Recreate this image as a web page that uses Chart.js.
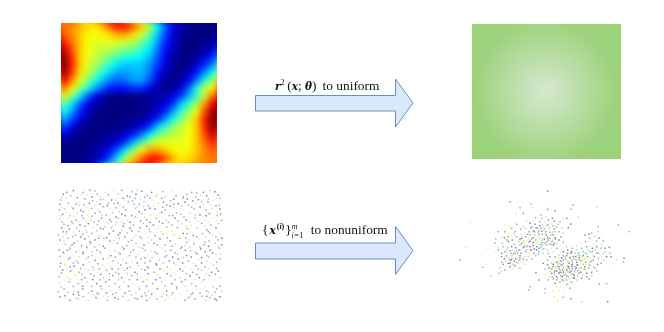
<!DOCTYPE html>
<html><head><meta charset="utf-8">
<script src="https://cdn.jsdelivr.net/npm/chart.js@4"></script>
<style>
html,body{margin:0;padding:0;background:#fff;width:664px;height:332px;overflow:hidden}
.clip{position:absolute;overflow:hidden}
.clip canvas{position:absolute}
.plain{position:absolute}
svg{position:absolute;left:0;top:0}
.t{position:absolute;font-family:"Liberation Serif",serif;font-size:13.4px;color:#111;white-space:nowrap;line-height:14px}
.t i{font-family:"DejaVu Serif",serif;font-weight:bold;font-size:10.5px}
.t sup,.t sub{font-size:8px;line-height:0}
</style></head><body>
<div class="clip" id="heatBox" style="left:61px;top:23px;width:156px;height:140px"><canvas id="heat"></canvas></div>
<div class="clip" id="greenBox" style="left:472px;top:24px;width:149px;height:135px"><canvas id="green"></canvas></div>
<canvas id="scA" class="plain" style="left:50px;top:185px"></canvas>
<canvas id="scB" class="plain" style="left:455px;top:185px"></canvas>
<svg width="664" height="332">
<path d="M255.5 95.5H395.5V79L413 103L395.5 127V111H255.5Z" fill="#dae8fc" stroke="#6c8ebf" stroke-width="1"/>
<path d="M255.5 243H395.5V226.5L413 250.5L395.5 274.5V259H255.5Z" fill="#dae8fc" stroke="#6c8ebf" stroke-width="1"/>
</svg>
<div class="t" style="left:275px;top:79px"><i>r</i><sup>2</sup>&thinsp;(<i>x</i>; <i>θ</i>)&thinsp; to uniform</div>
<div class="t" style="left:262px;top:223px">{<i style="margin:0 1px">x</i><sup style="margin-right:1px"><b>(<span style="font-style:italic">i</span>)</b></sup>}<sup style="font-style:italic;letter-spacing:1px">m</sup><sub style="margin-left:-7px;letter-spacing:.6px"><span style="font-style:italic">i</span>=1</sub>&ensp;to nonuniform</div>
<script>
const heatValues=[
[.78,.76,.72,.68,.67,.72,.82,.88,.88,.80,.70,.58,.36,.20,.10,.04,.02,0,0,0],
[.80,.76,.70,.66,.64,.66,.70,.74,.74,.68,.60,.46,.30,.17,.08,.03,.01,0,0,0],
[.86,.78,.70,.64,.62,.62,.62,.62,.60,.56,.48,.38,.26,.14,.06,.02,0,0,0,.02],
[.93,.82,.70,.64,.60,.58,.56,.52,.50,.46,.40,.33,.22,.12,.05,.01,0,.01,.03,.08],
[.98,.85,.70,.63,.58,.54,.48,.42,.38,.37,.34,.28,.19,.10,.03,0,0,.02,.07,.14],
[1,.86,.70,.62,.55,.47,.38,.32,.30,.30,.29,.24,.16,.07,.02,0,.02,.07,.14,.24],
[.97,.84,.68,.58,.48,.38,.30,.26,.26,.28,.28,.22,.12,.05,.01,.01,.05,.13,.24,.36],
[.90,.76,.62,.50,.38,.29,.22,.20,.22,.26,.26,.18,.08,.02,.01,.03,.10,.22,.38,.52],
[.78,.66,.52,.38,.27,.18,.13,.12,.13,.15,.14,.08,.03,.01,.02,.08,.20,.40,.56,.66],
[.66,.50,.34,.20,.10,.04,.01,0,0,.01,.01,.02,.03,.05,.09,.16,.28,.42,.58,.78],
[.46,.33,.20,.10,.04,.01,0,0,0,0,.01,.02,.04,.08,.15,.30,.42,.54,.74,.90],
[.38,.26,.14,.06,.02,0,0,0,0,0,.01,.03,.07,.14,.27,.40,.52,.64,.82,.97],
[.28,.17,.09,.03,0,0,0,0,0,.01,.03,.07,.14,.26,.38,.50,.60,.70,.86,1],
[.17,.09,.03,0,0,0,0,.01,.02,.05,.09,.16,.32,.42,.52,.58,.64,.70,.85,.98],
[.09,.03,.01,0,0,.01,.02,.04,.08,.14,.23,.35,.47,.54,.58,.60,.64,.70,.82,.93],
[.02,0,0,0,.01,.03,.05,.10,.18,.30,.44,.56,.62,.62,.62,.62,.64,.70,.78,.86],
[0,0,0,.01,.03,.06,.12,.22,.36,.54,.66,.74,.74,.70,.66,.64,.66,.70,.76,.80],
[0,0,0,.02,.04,.10,.20,.36,.58,.70,.80,.88,.88,.82,.72,.67,.68,.72,.76,.78]];
const greenValues=[
[0,0,0,0,.01,.07,.11,.13,.13,.11,.07,.01,0,0,0,0],
[0,0,0,.06,.14,.20,.24,.26,.26,.24,.20,.14,.06,0,0,0],
[0,0,.07,.16,.25,.32,.37,.39,.39,.37,.32,.25,.16,.07,0,0],
[0,.04,.15,.25,.35,.43,.49,.53,.53,.49,.43,.35,.25,.15,.04,0],
[0,.10,.21,.33,.44,.53,.61,.66,.66,.61,.53,.44,.33,.21,.10,0],
[.01,.14,.26,.38,.50,.62,.72,.79,.79,.72,.62,.50,.38,.26,.14,.01],
[.03,.16,.29,.41,.54,.67,.79,.91,.91,.79,.67,.54,.41,.29,.16,.03],
[.03,.16,.29,.41,.54,.67,.79,.91,.91,.79,.67,.54,.41,.29,.16,.03],
[.01,.14,.26,.38,.50,.62,.72,.79,.79,.72,.62,.50,.38,.26,.14,.01],
[0,.10,.21,.33,.44,.53,.61,.66,.66,.61,.53,.44,.33,.21,.10,0],
[0,.04,.15,.25,.35,.43,.49,.53,.53,.49,.43,.35,.25,.15,.04,0],
[0,0,.07,.16,.25,.32,.37,.39,.39,.37,.32,.25,.16,.07,0,0],
[0,0,0,.06,.14,.20,.24,.26,.26,.24,.20,.14,.06,0,0,0],
[0,0,0,0,.01,.07,.11,.13,.13,.11,.07,.01,0,0,0,0]];
const uniformXY=[
70,17,120,16,135,18,165,22,190,17,215,16,245,20,262,16,275,19,305,22,338,20,365,16,392,20,425,22,440,24,480,17,495,20,
40,28,62,33,95,27,112,30,142,28,175,30,205,27,232,33,258,28,292,31,322,28,352,30,378,33,410,28,452,30,470,33,505,30,
32,45,48,40,75,46,105,42,128,47,160,42,185,45,220,40,248,48,272,42,310,45,335,40,362,47,398,41,428,48,445,44,475,42,490,47,515,52,
30,58,55,55,88,60,118,55,150,58,192,56,210,60,240,55,268,58,295,62,325,55,350,60,385,56,415,60,438,55,462,58,498,62,
28,75,45,72,70,70,92,76,125,70,145,75,178,72,198,68,228,75,255,70,285,74,315,72,345,75,372,68,402,74,432,72,468,75,485,70,510,72,
38,88,60,92,82,85,110,90,135,85,168,90,188,84,215,88,245,92,275,86,302,90,330,85,358,92,392,88,420,85,450,90,478,86,502,92,
30,102,52,100,78,105,100,100,122,106,155,100,180,104,205,100,232,106,262,100,290,105,318,100,348,106,375,100,408,105,435,98,465,104,492,100,515,106,
42,118,68,115,90,120,115,116,142,120,172,115,195,120,222,116,250,120,280,115,310,120,338,115,365,120,395,116,425,120,455,115,482,120,505,116,
35,128,58,132,80,130,108,135,130,128,160,132,185,128,215,135,240,130,270,128,298,133,325,130,355,135,382,128,412,132,442,130,470,135,498,128,
25,150,48,146,72,142,98,148,125,145,150,152,178,146,205,150,232,144,258,150,288,145,315,152,340,146,372,150,400,145,430,152,458,146,488,150,512,148,
30,165,55,160,82,168,105,162,135,165,162,160,192,168,218,162,245,166,275,160,305,165,330,162,360,168,390,160,418,165,448,162,478,168,505,165,
45,178,72,175,95,182,122,176,148,180,175,178,202,175,230,182,258,176,282,180,312,175,345,180,375,176,405,182,432,176,462,180,495,175,515,180,
28,195,60,192,88,198,112,190,140,196,165,190,195,198,222,192,250,196,278,190,302,198,335,192,362,196,392,190,422,198,452,192,480,196,508,190,
42,208,70,212,98,206,125,212,152,206,182,212,210,206,238,212,265,208,295,212,322,206,350,212,382,208,410,212,440,206,470,212,498,208,
35,225,55,222,80,228,108,222,135,226,160,222,190,228,218,224,245,228,272,222,300,228,328,224,358,228,385,222,415,228,445,224,472,228,510,222,
30,245,45,240,72,244,100,240,128,246,158,240,182,246,212,240,240,246,265,242,292,246,320,240,352,246,378,240,405,246,438,242,465,246,490,240,
38,255,62,258,88,262,115,256,142,262,170,256,198,262,225,256,255,262,285,256,312,262,340,256,368,262,398,258,428,262,455,256,485,262,505,258,
28,275,52,278,78,272,105,278,132,272,160,278,188,272,215,278,245,272,272,278,300,272,330,278,362,272,390,278,420,272,448,278,478,272,512,278,
30,295,58,290,85,296,112,290,140,296,168,290,195,296,222,290,250,296,280,290,308,296,335,290,365,296,395,290,425,296,455,290,485,296,
25,320,42,312,72,318,98,312,125,318,155,312,182,318,210,312,238,318,268,312,295,318,322,312,350,318,380,312,410,318,440,312,470,318,500,312,515,318,
45,332,70,328,100,335,130,330,160,334,188,328,218,334,245,330,275,334,305,328,335,334,365,330,395,334,425,328,455,334,485,330,510,335,
60,346,85,342,115,346,145,342,172,346,205,342,235,346,262,342,290,346,320,342,345,346,375,342,405,346,435,342,468,346,495,342,
50,22,100,22,150,35,200,38,240,35,300,38,345,36,400,36,460,22,510,40,85,52,140,52,175,55,235,50,282,50,340,52,405,52,455,50,65,65,110,66,160,65,220,66,262,66,300,70,360,64,425,66,480,60,
50,82,100,80,150,82,208,80,268,80,335,82,380,84,445,82,500,80,65,110,132,112,200,112,240,112,300,112,355,112,420,110,475,112,55,122,105,124,165,125,220,124,290,124,350,126,410,124,465,124,
40,140,88,138,140,138,190,138,245,138,300,140,365,140,420,140,475,140,68,155,115,155,170,158,225,155,270,155,325,158,385,155,440,156,498,156,42,168,120,170,180,168,235,170,295,172,350,170,410,172,465,172,
60,186,110,186,160,184,218,186,268,186,330,186,395,186,450,186,505,186,40,202,100,202,150,200,205,202,270,202,315,202,375,204,435,202,488,204,60,218,115,216,175,218,230,216,285,218,345,216,400,218,455,218,
32,235,85,234,118,232,172,234,228,234,285,234,340,234,398,234,455,234,500,232,50,250,105,250,148,252,205,252,275,252,330,252,390,252,445,252,475,252,75,268,122,266,178,266,232,266,295,266,352,266,410,266,468,266,
45,285,95,284,150,284,205,284,262,284,318,284,375,284,435,284,495,284,70,304,125,304,178,304,235,304,290,304,345,304,405,304,465,304,510,304,55,322,115,324,170,324,225,324,285,324,340,324,390,324,450,324,495,322,
78,340,138,338,195,338,255,340,300,338,355,338,415,338,480,338,
36,36,82,38,126,36,152,44,198,46,226,46,256,40,284,36,318,34,372,42,412,42,438,36,500,38,36,66,78,58,102,60,134,62,172,62,204,54,252,58,280,64,312,62,338,66,372,58,396,64,450,66,474,52,508,60,
34,92,72,94,96,92,126,94,156,90,198,96,226,92,256,96,284,96,322,92,368,92,402,96,436,90,468,92,512,88,36,112,84,110,108,108,146,108,184,110,214,110,272,108,328,110,384,108,444,108,498,108,
50,140,76,150,110,142,152,130,210,144,266,140,332,140,350,146,412,146,480,144,38,156,92,156,146,160,208,160,252,156,294,158,352,158,408,158,468,156,516,160,66,180,134,186,186,176,248,184,322,180,366,184,420,186,476,184,
52,196,78,200,126,200,178,198,242,202,286,196,346,198,406,196,466,200,30,214,88,216,138,216,196,216,258,216,306,218,368,216,424,216,476,216,512,208,44,236,70,234,144,236,204,234,262,234,318,236,372,234,430,236,482,236,
60,246,92,250,130,254,186,252,232,250,296,250,360,252,420,252,500,250,34,264,96,268,152,268,206,266,262,268,322,268,378,268,440,268,496,268,60,282,128,284,178,284,238,284,290,284,348,284,406,284,462,284,
34,306,98,304,152,304,208,306,268,306,322,304,380,306,438,304,490,306,84,322,142,324,198,324,258,324,312,324,368,324,428,324,476,322,30,336,86,330,146,328,174,336,232,334,288,332,350,330,420,334,470,334,500,346];
const nonuniformXY=[
278,18,165,50,228,57,233,68,290,62,353,60,348,73,425,65,300,77,278,73,195,68,183,88,45,113,490,120,523,140,370,97,348,117,335,100,430,125,32,187,98,193,15,226,83,247,108,272,463,187,507,220,505,232,485,225,473,237,432,298,455,296,380,350,458,350,348,341,325,337,308,347,297,335,222,315,225,305,270,325,252,285,243,263,133,265,140,258,
230,98,242,98,258,90,272,95,292,100,205,85,315,110,325,102,150,120,130,140,170,130,205,125,225,115,240,118,255,110,270,112,285,115,295,122,305,125,322,130,340,128,148,158,122,162,140,155,162,145,180,140,198,132,212,130,228,128,244,128,258,130,272,125,285,130,298,132,312,140,325,145,
160,170,172,165,185,155,198,148,210,142,222,140,235,138,248,142,260,138,272,140,285,142,295,140,305,148,318,155,178,178,190,170,200,160,212,155,225,150,238,150,250,152,262,148,275,152,288,150,300,158,312,165,325,172,128,185,118,198,130,195,145,185,158,188,170,185,182,188,195,180,208,172,218,165,230,162,242,165,255,160,268,162,280,165,292,168,305,175,318,180,
150,200,165,198,178,200,192,195,205,188,218,182,232,178,245,175,258,178,270,175,283,178,295,180,140,215,155,212,170,212,185,210,198,205,212,200,225,195,238,192,252,190,265,192,278,195,290,190,305,190,140,232,152,228,168,225,182,222,195,218,210,215,225,210,238,205,250,208,265,205,145,238,160,235,175,238,190,235,205,232,215,225,230,222,135,248,165,245,180,242,195,250,210,238,175,252,150,255,
300,215,312,210,325,200,338,195,352,190,365,182,378,175,392,170,405,160,430,140,402,148,390,150,425,168,440,178,415,180,395,185,380,190,365,195,350,200,338,205,325,212,312,220,298,228,285,215,278,225,290,235,305,232,318,228,332,222,345,215,358,210,372,205,385,200,398,195,412,190,425,185,438,190,450,200,440,215,425,205,412,200,398,208,385,212,372,218,358,222,345,228,332,235,318,240,305,245,292,248,278,240,265,235,
270,252,285,258,298,255,312,252,325,248,338,242,352,238,365,232,378,228,392,222,405,218,418,215,430,220,445,225,455,215,468,215,405,232,392,238,378,242,365,248,352,252,338,258,325,262,312,265,298,268,285,272,272,268,280,285,295,282,308,280,322,275,335,272,348,268,362,262,375,258,388,252,402,248,415,245,428,238,300,295,315,292,328,288,342,282,355,278,368,272,382,268,395,265,410,262,425,258,305,305,318,305,335,298,350,292,365,285,380,280,402,282,270,312,295,318,325,322,345,310,
248,130,262,118,278,120,235,158,222,172,210,180,198,195,188,205,175,208,162,218,148,222,200,175,215,195,235,205,248,170,262,172,275,180,290,170,235,172,245,185,258,185,272,190,170,155,155,165,142,175,
335,185,348,205,362,215,375,212,388,222,400,225,415,225,430,205,445,205,320,218,335,212,352,225,365,225,378,235,392,232,405,240,325,235,340,245,352,245,365,240,315,255,328,255,342,250,358,258,372,252,290,265,305,258,318,272,332,265,345,278,358,272,295,245,308,238,282,248,322,285,335,285,312,292,
165,125,185,118,120,175,260,100,280,105,298,108,310,118,215,108,235,108,150,140,160,155,178,148,195,162,225,185,252,200,158,205,178,218,192,225,205,222,220,215,165,235,140,205,280,205,295,200,
440,150,445,168,410,145,418,155,432,160,450,190,465,205,415,210,452,232,438,235,420,250,410,272,395,275,378,262,368,258,340,298,312,315,
252,148,268,132,292,145,278,158,298,175,262,165,240,150,222,160,208,185,185,198,172,195,195,212,178,228,164,225,152,215,250,178,285,160,272,148,232,125,255,122,
345,218,360,205,372,225,385,208,398,215,352,232,338,228,325,225,312,245,298,262,285,250,328,245,345,262,360,245,375,225,390,245,305,275,318,262,332,280,345,290,
300,258,290,252,312,235,322,255,335,255,350,240,362,225,378,215,392,205,405,200,420,195,368,240,355,268,340,275,
265,125,282,135,295,150,275,170,262,180,245,195,228,195,215,185,205,168,192,172,180,205,168,205,155,195,238,140,225,168,252,138,
282,128,270,158,288,178,302,162,300,140,218,148,235,182,242,212,220,205,198,225,185,232,170,222,
330,215,342,235,355,215,368,210,382,225,395,230,410,228,322,240,335,250,348,258,362,252,378,248,392,255,302,250,315,262,328,270,342,262,358,280,372,265,385,238,402,240,318,280,305,285,292,275,310,228,295,238];
const jetStops=[[0,0,0,128],[.11,0,0,255],[.35,0,255,255],[.65,255,255,0],[.89,255,0,0],[1,128,0,0]];
const viridis=['rgba(68,1,84,.55)','rgba(59,82,139,.55)','rgba(33,145,140,.55)','rgba(94,201,98,.55)','rgba(253,231,37,.6)','rgba(72,40,120,.6)','rgba(40,120,142,.55)','rgba(160,218,57,.55)'];
const greenEdge=[155,210,122], greenCenter=[216,233,210];
function lerpStops(v){for(let k=1;k<jetStops.length;k++){if(v<=jetStops[k][0]){const a=jetStops[k-1],b=jetStops[k],t=(v-a[0])/(b[0]-a[0]);return 'rgb('+[1,2,3].map(i=>Math.round(a[i]+(b[i]-a[i])*t)).join(',')+')';}}return 'rgb(128,0,0)';}
function greenColor(v){return 'rgb('+[0,1,2].map(i=>Math.round(greenEdge[i]+(greenCenter[i]-greenEdge[i])*v)).join(',')+')';}
function toPoints(m){const p=[];m.forEach((r,y)=>r.forEach((v,x)=>p.push({x,y,v})));return p;}
function gridChart(id,m,cw,ch,colorFn,radius,haloRadius,blur){
  const rows=m.length,cols=m[0].length,pad=2,cv=document.getElementById(id);
  const W=Math.round((cols+2*pad)*cw),H=Math.round((rows+2*pad)*ch);
  cv.width=W;cv.height=H;cv.style.width=W+'px';cv.style.height=H+'px';cv.style.left=(-pad*cw)+'px';cv.style.top=(-pad*ch)+'px';cv.style.filter='blur('+blur+'px)';
  const all=toPoints(m),edge=all.filter(p=>p.x===0||p.y===0||p.x===cols-1||p.y===rows-1);
  const ds=(data,r,o)=>({data,order:o,pointStyle:'rect',pointRadius:r,pointBorderWidth:0,pointBackgroundColor:c=>c.raw?colorFn(c.raw.v):'#000',clip:false});
  new Chart(cv,{type:'scatter',data:{datasets:[ds(edge,haloRadius,2),ds(all,radius,1)]},
    options:{responsive:false,animation:false,layout:{padding:0,autoPadding:false},plugins:{legend:{display:false},tooltip:{enabled:false}},
    scales:{x:{display:false,min:-.5-pad,max:cols-.5+pad},y:{display:false,reverse:true,min:-.5-pad,max:rows-.5+pad}}}});
}
gridChart('heat',heatValues,7.8,7.78,lerpStops,6,22,3);
gridChart('green',greenValues,9.31,9.64,greenColor,7.5,26,4.5);
function scatterChart(id,flat){
  const cv=document.getElementById(id);cv.width=180;cv.height=120;cv.style.width='180px';cv.style.height='120px';
  const data=[];for(let i=0;i<flat.length;i+=2)data.push({x:flat[i],y:flat[i+1]});
  new Chart(cv,{type:'scatter',data:{datasets:[{data,pointStyle:'rect',pointRadius:1.05,pointBorderWidth:0,pointBackgroundColor:c=>viridis[(c.dataIndex*5)%viridis.length]}]},
    options:{responsive:false,animation:false,layout:{padding:0,autoPadding:false},plugins:{legend:{display:false},tooltip:{enabled:false}},
    scales:{x:{display:false,min:0,max:540},y:{display:false,reverse:true,min:0,max:360}}}});
}
scatterChart('scA',uniformXY);
scatterChart('scB',nonuniformXY);
</script>
</body></html>
